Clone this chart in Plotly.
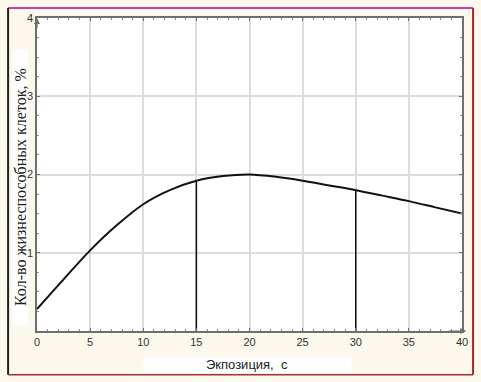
import plotly.graph_objects as go

# Data
exposure = [0, 2.5, 5, 7.5, 10, 12.5, 15, 17.5, 20, 22.5, 25, 27.5, 30, 32.5, 35, 37.5, 40]
viable = [0.28, 0.66, 1.03, 1.35, 1.62, 1.80, 1.92, 1.98, 2.00, 1.97, 1.92, 1.86, 1.80, 1.73, 1.66, 1.58, 1.50]
drop_x = [15, 30]
drop_y = [1.92, 1.80]
x_ticks = [0, 5, 10, 15, 20, 25, 30, 35, 40]
y_ticks = [1, 2, 3, 4]

fig = go.Figure()
fig.add_trace(go.Scatter(x=exposure, y=viable, mode="lines",
                         line=dict(color="#111111", width=2, shape="spline", smoothing=0.8),
                         showlegend=False, hoverinfo="skip"))
for dx, dy in zip(drop_x, drop_y):
    fig.add_trace(go.Scatter(x=[dx, dx], y=[0, dy], mode="lines",
                             line=dict(color="#111111", width=1.5),
                             showlegend=False, hoverinfo="skip"))

axis_common = dict(showline=True, linecolor="#6f6f6f", linewidth=1.5, mirror="allticks",
                   ticks="inside", ticklen=3, tickcolor="#6f6f6f",
                   gridcolor="#dcdcdc", gridwidth=1.5, zeroline=False,
                   tickfont=dict(family="Liberation Sans", size=11, color="#333333"))

fig.update_xaxes(range=[0, 40], tickvals=x_ticks, ticktext=[str(v) for v in x_ticks],
                 minor=dict(dtick=1, ticks="inside", ticklen=2, tickcolor="#8a8a8a", showgrid=False),
                 **axis_common)
fig.update_yaxes(range=[0, 4], tickvals=[0] + y_ticks, ticktext=[""] + [str(v) for v in y_ticks],
                 minor=dict(dtick=0.25, ticks="inside", ticklen=2, tickcolor="#8a8a8a", showgrid=False),
                 **axis_common)

# white boxes behind the axis titles
fig.add_shape(type="rect", xref="paper", yref="paper", x0=-0.059, x1=-0.021, y0=0.02, y1=0.9,
              fillcolor="white", line=dict(width=0), layer="below")
fig.add_shape(type="rect", xref="paper", yref="paper", x0=0.25, x1=0.74, y0=-0.132, y1=-0.082,
              fillcolor="white", line=dict(width=0), layer="below")

# axis titles
fig.add_annotation(text="Кол-во жизнеспособных клеток, %", xref="paper", yref="paper",
                   x=-0.040, y=0.46, xanchor="center", yanchor="middle", textangle=-90,
                   showarrow=False, font=dict(family="Liberation Serif", size=16, color="#222222"))
fig.add_annotation(text="Экпозиция,  с", xref="paper", yref="paper",
                   x=0.495, y=-0.106, xanchor="center", yanchor="middle",
                   showarrow=False, font=dict(family="Liberation Sans", size=13, color="#222222"))

# outer frame lines
fig.add_shape(type="line", xref="paper", yref="paper", x0=-0.068, x1=1.026, y0=1.032, y1=1.032,
              line=dict(color="#d63aa8", width=2))
fig.add_shape(type="line", xref="paper", yref="paper", x0=-0.068, x1=-0.068, y0=1.032, y1=-0.14,
              line=dict(color="#222222", width=2))
fig.add_shape(type="line", xref="paper", yref="paper", x0=1.026, x1=1.026, y0=1.032, y1=-0.14,
              line=dict(color="#b22222", width=2))
fig.add_shape(type="line", xref="paper", yref="paper", x0=-0.068, x1=1.026, y0=-0.14, y1=-0.14,
              line=dict(color="#a03040", width=1.5))

# axis arrows
fig.add_annotation(x=40.4, y=0, ax=38.6, ay=0, xref="x", yref="y", axref="x", ayref="y",
                   showarrow=True, arrowhead=2, arrowsize=1, arrowwidth=1.2, arrowcolor="#6f6f6f", text="")
fig.add_annotation(x=0, y=4.0, ax=0, ay=3.85, xref="x", yref="y", axref="x", ayref="y",
                   showarrow=True, arrowhead=2, arrowsize=1, arrowwidth=1.2, arrowcolor="#6f6f6f", text="")

fig.update_layout(width=481, height=382, margin=dict(l=37, r=19, t=15, b=51),
                  paper_bgcolor="#fdf8ec", plot_bgcolor="white", showlegend=False)

fig.write_html("out.html")
